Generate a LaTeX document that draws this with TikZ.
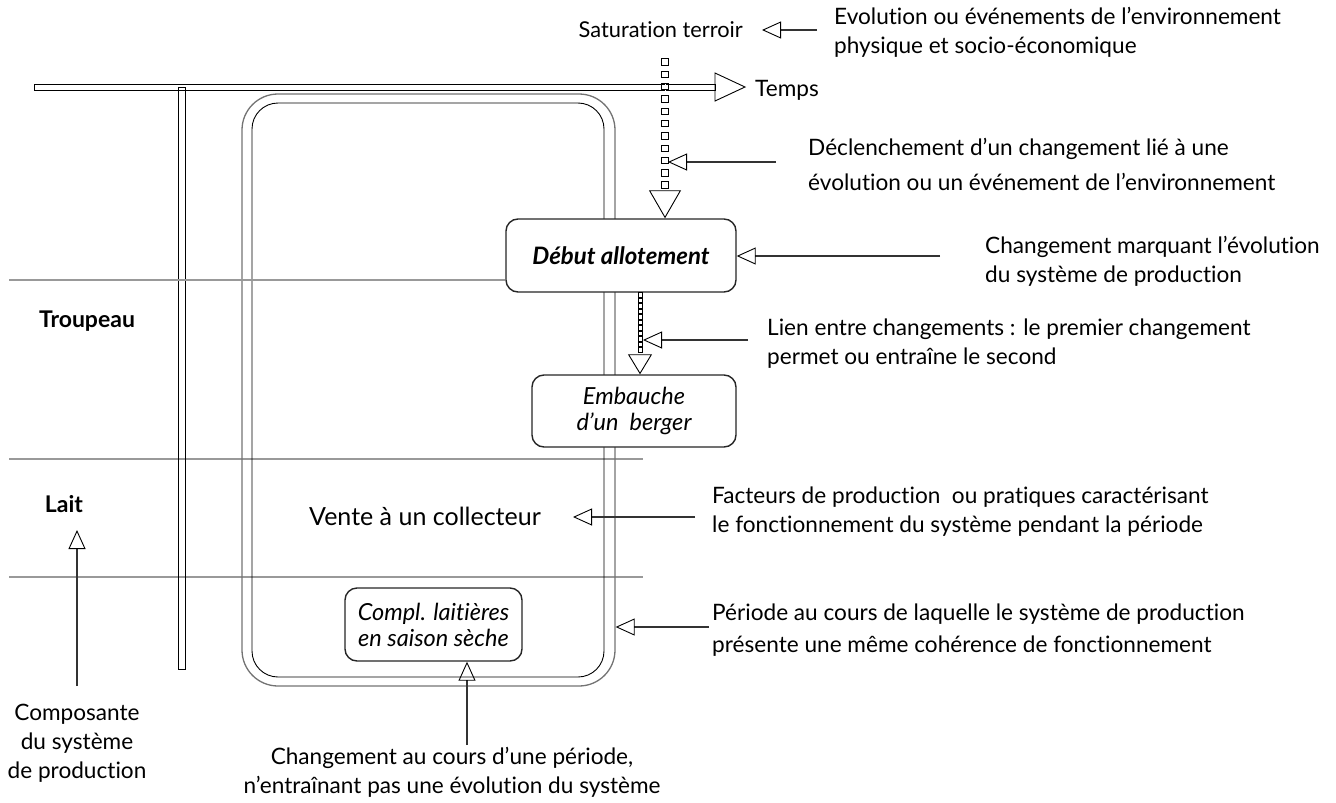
\documentclass[tikz,border=0pt]{standalone}
\usepackage{fontspec}
\setmainfont{Lato}[Ligatures=NoCommon]
\usetikzlibrary{arrows.meta,decorations.markings,calc}
\begin{document}
\begin{tikzpicture}[x=1pt,y=-1pt,
  txt/.style={inner sep=0pt, font=\fontsize{22.6}{29}\selectfont, align=left},
  ctxt/.style={inner sep=0pt, font=\fontsize{22.6}{29}\selectfont, align=center},
  lbl/.style={inner sep=0pt, font=\fontsize{23}{29}\selectfont\bfseries},
  chbox/.style={draw=black!85, line width=1.4pt, rounded corners=12pt, inner sep=0pt, align=center, font=\fontsize{23.5}{26}\selectfont\itshape},
  band/.style={draw=black!40, line width=2pt},
  ptr/.style={draw=black!80, line width=2.2pt, -{Triangle[open, length=19pt, width=17pt, line width=0.9pt, color=black]}},
  sqbig/.style={draw=white, line width=0.1pt,
     -{Triangle[open, length=28pt, width=32pt, line width=0.9pt, color=black]},
     postaction={decorate, decoration={markings,
        mark=between positions 0 and -30pt step 12.3pt with {\draw[black, line width=0.7pt] (-3.2pt,-3.2pt) rectangle (3.2pt,3.2pt);}}}},
  sqsmall/.style={draw=white, line width=0.1pt,
     -{Triangle[open, length=20pt, width=24pt, line width=0.9pt, color=black]},
     postaction={decorate, decoration={markings,
        mark=between positions 2pt and -21pt step 5.5pt with {\draw[black, line width=0.5pt] (-2.2pt,-2.2pt) rectangle (2.2pt,2.2pt);}}}}
]
\useasboundingbox (0,0) rectangle (1336,803);

% bands (components)
\draw[band] (9,459) -- (643,459);
\draw[band] (9,577) -- (643,577);

% time axis
\draw[line width=0.9pt] (34,84) rectangle (715,90);
\draw[line width=0.9pt] (715,73) -- (745,87) -- (715,101) -- cycle;
\node[txt, anchor=base west] (temps) at (755,96) {Temps};

% vertical bar
\draw[line width=0.9pt] (178,87) rectangle (185,669);

% period (double rounded rectangle)
\node[draw=black!55, line width=1.3pt, rounded corners=36pt, minimum width=373pt, minimum height=592pt, inner sep=0pt] (period) at (428.5,390) {};
\draw[line width=0.9pt, rounded corners=26pt] (252,103) rectangle (604,677);

% change boxes
\node[chbox, fill=white, minimum width=230pt, minimum height=73pt, font=\fontsize{24}{26}\selectfont\bfseries\itshape] (deb) at (621,255.5) {Début allotement};
\draw[band] (9,280) -- (deb.west |- 0,280);
\node[chbox, fill=white, minimum width=204pt, minimum height=72pt] (emb) at (634,411) {Embauche\\d’un~~berger};
\node[chbox, fill=white, minimum width=177pt, minimum height=73pt] (compl) at (433.5,624.5) {Compl. laitières\\en saison sèche};

% labels
\node[lbl] (troupeau) at (87,321) {Troupeau};
\node[lbl] (lait) at (64,504) {Lait};
\node[ctxt, anchor=base, font=\fontsize{25}{29}\selectfont] (vente) at (425,525) {Vente à un collecteur};
\node[ctxt, anchor=base east, font=\fontsize{21.8}{29}\selectfont] (sat) at (743,37) {Saturation terroir};
\node[ctxt, anchor=north] (compo) at (77,704) {Composante\\du système\\de production};

% explanation texts (base anchor = baseline of the last line)
\node[txt, anchor=base west] (evo) at (834,53) {Evolution ou événements de l’environnement\\physique et socio-économique};
\node[txt, anchor=base west] (decl) at (808,190) {Déclenchement d’un changement lié à une\\[6pt]évolution ou un événement de l’environnement};
\node[txt, anchor=base west] (marq) at (985,282) {Changement marquant l’évolution\\du système de production};
\node[txt, anchor=base west] (lien) at (767,364) {Lien entre changements : le premier changement\\permet ou entraîne le second};
\node[txt, anchor=base west] (fact) at (712,532) {Facteurs de production~ ou pratiques caractérisant\\le fonctionnement du système pendant la période};
\node[txt, anchor=base west] (per) at (712,652) {Période au cours de laquelle le système de production\\[3pt]présente une même cohérence de fonctionnement};
\node[ctxt, anchor=base] (chg) at (452,793) {Changement au cours d’une période,\\n’entraînant pas une évolution du système};

% coordinates for free ends
\coordinate (d1) at (665,62);
\coordinate (satp) at (762,30);
\coordinate (e1) at (817,30);
\coordinate (declA) at (776,162);
\coordinate (declB) at (668,162);
\coordinate (marqA) at (940,256);
\coordinate (lienA) at (748,340);
\coordinate (lienB) at (643,340);
\coordinate (factA) at (695,517);
\coordinate (factB) at (573,517);
\coordinate (perA) at (709,627);
\coordinate (laitA) at (77,686);
\coordinate (laitB) at (77,530);
\coordinate (chgA) at (467,745);

% dotted change-trigger connectors
\draw[sqbig] (d1) -- (d1 |- deb.north);
\draw[sqsmall] (deb.south -| 640,0) -- (emb.north -| 640,0);

% pointer arrows
\draw[ptr] (e1) -- (satp);
\draw[ptr] (declA) -- (declB);
\draw[ptr] (marqA) -- (deb.east |- marqA);
\draw[ptr] (lienA) -- (lienB);
\draw[ptr] (factA) -- (factB);
\draw[ptr] (perA) -- (period.east |- perA);
\draw[ptr] (laitA) -- (laitB);
\draw[ptr] (chgA) -- (compl.south -| chgA);
\end{tikzpicture}
\end{document}
